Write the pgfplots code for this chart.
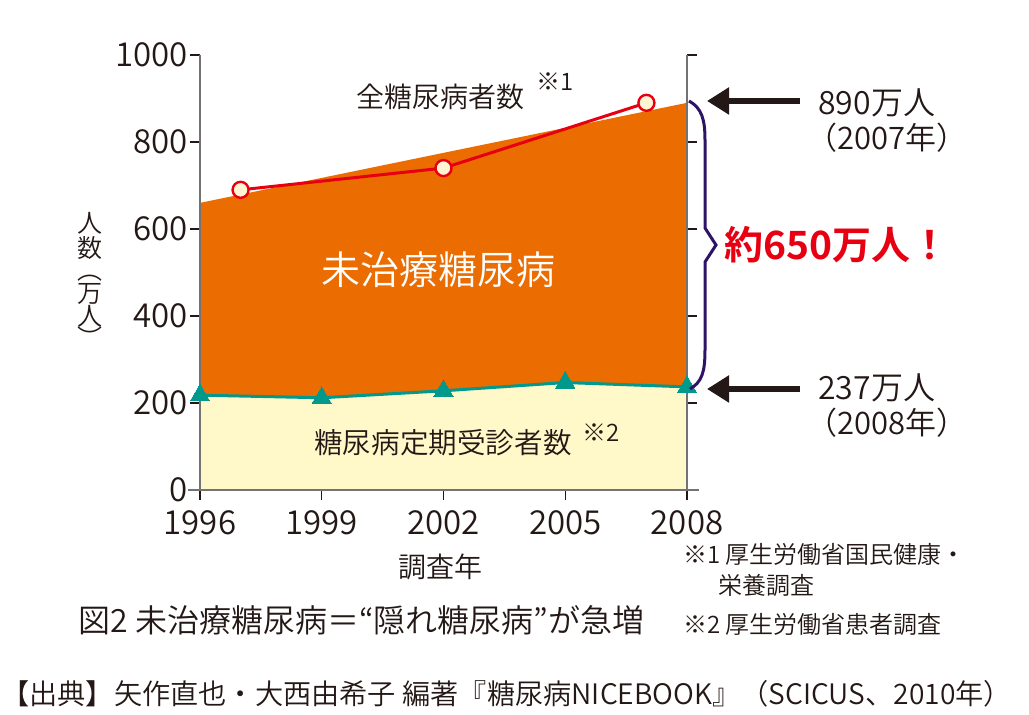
\documentclass[border=0pt]{standalone}
\usepackage{fontspec}
\setmainfont{Noto Sans CJK JP}[UprightFont={* DemiLight}, BoldFont={* Bold}]
\usepackage{pgfplots}
\pgfplotsset{compat=1.18}
\usetikzlibrary{arrows.meta}
\definecolor{txt}{HTML}{231815}
\definecolor{orng}{HTML}{EB6C00}
\definecolor{yel}{HTML}{FFF8C8}
\definecolor{tealc}{HTML}{00998C}
\definecolor{redc}{HTML}{E60012}
\definecolor{cream}{HTML}{FFF5D2}
\definecolor{bracec}{HTML}{2D1466}
\begin{document}
\begin{tikzpicture}[every node/.style={text=txt, inner sep=0pt}]
\path[use as bounding box] (0,0) rectangle (514.5pt,357.5pt);
\begin{axis}[
  at={(100pt,112.5pt)}, anchor=south west, scale only axis,
  width=243.5pt, height=217.5pt,
  xmin=1996, xmax=2008, ymin=0, ymax=1000,
  axis x line*=bottom,
  axis line style={black!55, line width=1pt},
  xtick={1996,1999,2002,2005,2008},
  ytick={0,200,400,600,800,1000},
  ytick pos=both, yticklabel pos=left,
  tick align=outside,
  major tick length=5pt,
  tick style={txt, line width=0.7pt},
  ticklabel style={font=\fontsize{16.5}{16}\selectfont, text=txt},
  yticklabel style={xshift=-1pt},
  xticklabel style={yshift=-5pt},
  /pgf/number format/assume math mode=true,
  /pgf/number format/1000 sep={},
  axis on top, clip=false,
]
\addplot[fill=orng, draw=none] coordinates {(1996,660) (2008,890)} \closedcycle;
\addplot[fill=yel, draw=none] coordinates {(1996,218) (1999,212) (2002,228) (2005,247) (2008,237)} \closedcycle;
\addplot[tealc, line width=1.5pt, mark=triangle*, mark size=5.5pt, mark options={fill=tealc, draw=tealc, line width=0pt}]
  coordinates {(1996,218) (1999,212) (2002,228) (2005,247) (2008,237)};
\addplot[redc, line width=1.5pt, mark=*, mark size=4pt, mark options={fill=cream, draw=redc, line width=1.2pt}]
  coordinates {(1997,690) (2002,740) (2007,890)};
\end{axis}
\begin{scope}[x=0.5pt, y=-0.5pt, shift={(0pt,357.5pt)}]
  % bottom axis line extension
  \draw[black!55, line width=1pt] (188,490) -- (699,490);
  % in-plot labels
  \node[font=\fontsize{14}{14}\selectfont, anchor=west] at (356,97) {全糖尿病者数};
  \node[font=\fontsize{12}{12}\selectfont, anchor=west] at (536,82) {※1};
  \node[font=\fontsize{19.5}{20}\selectfont, text=white] at (438,270) {未治療糖尿病};
  \node[font=\fontsize{14.3}{14}\selectfont] at (443,443) {糖尿病定期受診者数};
  \node[font=\fontsize{12}{12}\selectfont, anchor=west] at (582,433) {※2};
  % y label (vertical)
  \node[font=\fontsize{12.5}{11.3}\selectfont, align=center] at (90,280) {人\\数\\︵\\万\\人\\︶};
  % x label
  \node[font=\fontsize{14}{14}\selectfont] at (440,567) {調査年};
  % brace
  \draw[bracec, line width=1.5pt, line join=miter]
    (689,101) .. controls (702,108) and (705,120) .. (705,140) -- (705,228) -- (716,245) -- (705,262)
    -- (705,350) .. controls (705,372) and (702,382) .. (690,389);
  % arrows
  \draw[txt, line width=2.6pt, -{Triangle[length=11pt,width=13pt]}] (800,101) -- (707,101);
  \draw[txt, line width=2.6pt, -{Triangle[length=11pt,width=13pt]}] (800,389) -- (707,389);
  \node[font=\fontsize{16}{16}\selectfont, anchor=west] at (818,103) {890万人};
  \node[font=\fontsize{15.5}{16}\selectfont, anchor=west] at (806,138) {（2007年）};
  \node[font=\fontsize{16}{16}\selectfont, anchor=west] at (818,388) {237万人};
  \node[font=\fontsize{15.5}{16}\selectfont, anchor=west] at (806,423) {（2008年）};
  \node[font=\bfseries\fontsize{19.5}{20}\selectfont, text=redc, anchor=west] at (724,245) {約650万人！};
  % caption
  \node[font=\fontsize{16}{16}\selectfont, anchor=west] at (78,620) {図2 未治療糖尿病＝“隠れ糖尿病”が急増};
  % footnotes
  \node[font=\fontsize{12}{12}\selectfont, anchor=west] at (683,554) {※1 厚生労働省国民健康・};
  \node[font=\fontsize{12}{12}\selectfont, anchor=west] at (718,585) {栄養調査};
  \node[font=\fontsize{12}{12}\selectfont, anchor=west] at (683,624) {※2 厚生労働省患者調査};
  % source
  \node[font=\fontsize{14.1}{14}\selectfont, anchor=west] at (1,694) {【出典】矢作直也・大西由希子 編著『糖尿病NICEBOOK』（SCICUS、2010年）};
\end{scope}
\end{tikzpicture}
\end{document}
